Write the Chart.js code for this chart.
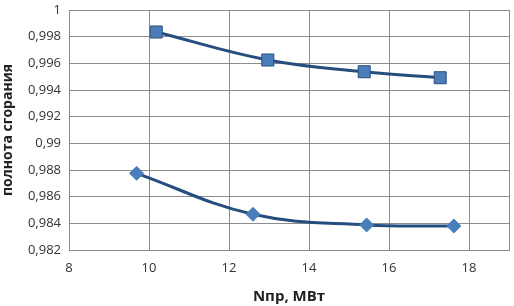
<!DOCTYPE html>
<html>
<head>
<meta charset="utf-8">
<script src="https://cdn.jsdelivr.net/npm/chart.js@4/dist/chart.umd.min.js"></script>
<style>
  html, body { margin: 0; padding: 0; background: #fff; }
  #wrap { width: 514px; height: 306px; }
</style>
</head>
<body>
<div id="wrap"><canvas id="burnChart" width="514" height="306"></canvas></div>
<script>
// data
const upperX = [10.18, 12.97, 15.38, 17.28];
const upperY = [0.99835, 0.99625, 0.99537, 0.99492];
const lowerX = [9.69, 12.6, 15.44, 17.62];
const lowerY = [0.98775, 0.98468, 0.98388, 0.9838];
const xLabel = "Nпр, МВт";
const yLabel = "полнота сгорания";

const toPoints = (xs, ys) => xs.map((x, i) => ({ x: x, y: ys[i] }));
const fmt = (v) => String(+v.toFixed(3)).replace(".", ",");

const gridColor = "#8c8c8c";
const lineColor = "#254e7f";

const ctx = document.getElementById("burnChart").getContext("2d");
const burnChart = new Chart(ctx, {
  type: "scatter",
  data: {
    datasets: [
      {
        label: "upper",
        data: toPoints(upperX, upperY),
        showLine: true,
        borderColor: lineColor,
        borderWidth: 3,
        tension: 0.4,
        pointStyle: "rect",
        pointRadius: 8.5,
        pointBackgroundColor: "#4a7ebb",
        pointBorderColor: "#2a4e7c",
        pointBorderWidth: 1,
      },
      {
        label: "lower",
        data: toPoints(lowerX, lowerY),
        showLine: true,
        borderColor: lineColor,
        borderWidth: 3,
        tension: 0.4,
        pointStyle: "rectRot",
        pointRadius: 7,
        pointBackgroundColor: "#4a7ebb",
        pointBorderColor: "#4a7ebb",
        pointBorderWidth: 1,
      },
    ],
  },
  options: {
    responsive: false,
    animation: false,
    layout: {
      autoPadding: false,
      padding: { top: 10, right: 5, left: 0, bottom: 0 },
    },
    plugins: {
      legend: { display: false },
      tooltip: { enabled: false },
    },
    scales: {
      x: {
        type: "linear",
        min: 8,
        max: 19,
        border: { color: gridColor },
        grid: { color: gridColor, drawTicks: false },
        ticks: {
          stepSize: 2,
          padding: 10,
          color: "#333",
          font: { family: "Open Sans", size: 13 },
          callback: (v) => (v > 18 ? "" : fmt(v)),
        },
        title: {
          display: true,
          text: xLabel,
          color: "#222",
          font: { family: "Open Sans", size: 15, weight: "bold" },
          padding: { top: 2, bottom: 0 },
        },
        afterFit: (axis) => {
          axis.height = 56;
          axis.paddingLeft = 0;
          axis.paddingRight = 0;
        },
      },
      y: {
        min: 0.982,
        max: 1,
        border: { color: gridColor },
        grid: { color: gridColor, drawTicks: false },
        ticks: {
          stepSize: 0.002,
          padding: 8,
          color: "#333",
          font: { family: "Open Sans", size: 13 },
          callback: (v) => fmt(v),
        },
        title: {
          display: true,
          text: yLabel,
          color: "#222",
          font: { family: "Open Sans", size: 14, weight: "bold" },
          padding: { top: 0, bottom: 2 },
        },
        afterFit: (axis) => {
          axis.width = 69;
          axis.paddingTop = 0;
          axis.paddingBottom = 0;
        },
      },
    },
  },
});
</script>
</body>
</html>
